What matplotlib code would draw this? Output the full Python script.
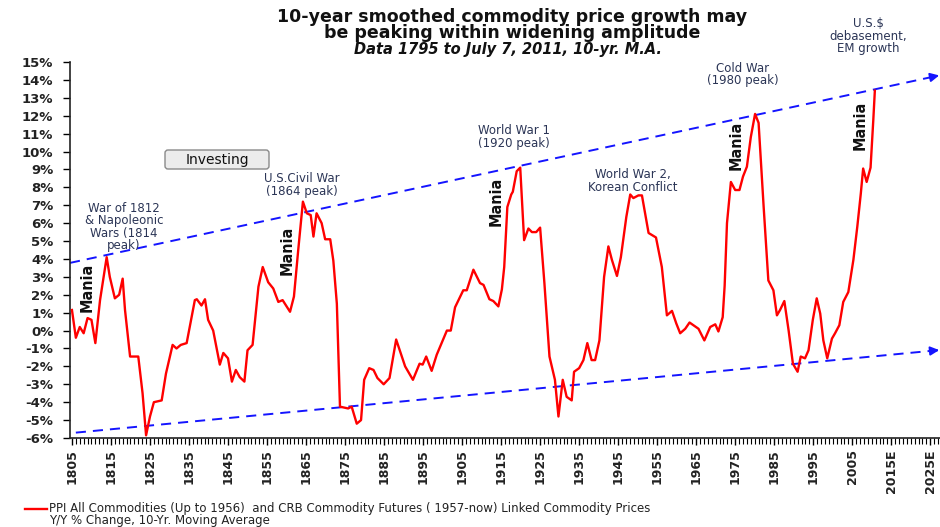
import matplotlib
matplotlib.use("Agg")
import matplotlib.pyplot as plt
from matplotlib.patches import FancyBboxPatch
from matplotlib.lines import Line2D

# 10-yr moving average of Y/Y commodity price change (%)
years = [1805.0, 1806.0, 1807.0, 1808.0, 1809.0, 1810.0, 1811.0, 1812.2, 1813.9, 1814.7,
         1816.0, 1817.1, 1818.0, 1818.6, 1819.9, 1822.0, 1823.1, 1824.0, 1825.0, 1826.0,
         1828.0, 1829.1, 1830.8, 1831.8, 1832.9, 1834.4, 1836.5, 1837.0, 1838.2, 1839.1,
         1839.9, 1841.2, 1842.9, 1843.8, 1845.0, 1846.0, 1847.0, 1848.0, 1849.2, 1850.0,
         1851.3, 1852.8, 1853.9, 1855.3, 1856.6, 1857.9, 1859.0, 1860.9, 1861.9, 1863.0,
         1864.2, 1865.2, 1866.2, 1866.9, 1867.7, 1869.0, 1869.9, 1871.2, 1872.0, 1872.9,
         1873.7, 1875.8, 1876.7, 1878.0, 1879.1, 1879.9, 1881.2, 1882.3, 1883.3, 1884.9,
         1886.4, 1888.1, 1890.4, 1892.4, 1894.1, 1894.9, 1895.8, 1897.2, 1898.5, 1901.1,
         1902.1, 1903.2, 1905.3, 1906.2, 1907.9, 1909.6, 1910.5, 1912.0, 1913.0, 1914.3,
         1915.2, 1915.8, 1916.6, 1917.6, 1918.0, 1919.0, 1919.9, 1920.9, 1922.0, 1922.9,
         1924.0, 1925.0, 1926.1, 1927.4, 1928.8, 1929.7, 1930.8, 1931.8, 1933.1, 1933.7,
         1935.0, 1936.1, 1937.1, 1938.2, 1939.1, 1940.2, 1941.4, 1942.5, 1943.4, 1944.7,
         1945.7, 1947.1, 1948.1, 1948.9, 1950.2, 1951.1, 1952.8, 1954.7, 1956.2, 1957.5,
         1958.8, 1959.9, 1960.9, 1962.2, 1963.3, 1964.3, 1965.6, 1967.1, 1968.6, 1969.9,
         1970.7, 1971.8, 1972.3, 1972.9, 1973.9, 1975.0, 1976.1, 1977.0, 1978.0, 1979.0,
         1980.1, 1981.0, 1982.3, 1983.5, 1984.8, 1985.7, 1986.5, 1987.6, 1988.7, 1989.8,
         1991.0, 1991.8, 1992.9, 1993.8, 1994.9, 1995.9, 1996.8, 1997.6, 1998.6, 1999.8,
         2000.6, 2001.7, 2002.7, 2004.0, 2005.3, 2006.3, 2007.2, 2007.8, 2008.7, 2009.7,
         2010.4, 2010.8]
growth = [1.15, -0.4, 0.2, -0.15, 0.7, 0.6, -0.7, 1.7, 4.1, 3.0,
          1.8, 2.0, 2.9, 1.15, -1.45, -1.45, -3.5, -5.85, -4.8, -4.0,
          -3.9, -2.4, -0.8, -1.0, -0.8, -0.7, 1.7, 1.75, 1.4, 1.75,
          0.6, 0.0, -1.9, -1.25, -1.55, -2.85, -2.2, -2.6, -2.85, -1.1,
          -0.8, 2.45, 3.55, 2.7, 2.35, 1.6, 1.7, 1.05, 1.9, 4.5,
          7.2, 6.55, 6.45, 5.25, 6.55, 6.0, 5.1, 5.1, 3.9, 1.5,
          -4.25, -4.35, -4.25, -5.2, -5.0, -2.75, -2.1, -2.2, -2.65, -3.0,
          -2.65, -0.5, -2.0, -2.75, -1.85, -1.9, -1.45, -2.25, -1.35, 0.0,
          0.0, 1.3, 2.25, 2.25, 3.4, 2.65, 2.55, 1.75, 1.65, 1.35,
          2.3, 3.55, 6.9, 7.6, 7.75, 8.9, 9.1, 5.05, 5.7, 5.5,
          5.5, 5.75, 2.65, -1.45, -2.75, -4.8, -2.75, -3.7, -3.9, -2.3,
          -2.1, -1.65, -0.7, -1.65, -1.65, -0.55, 3.0, 4.7, 3.95, 3.05,
          4.1, 6.35, 7.6, 7.4, 7.55, 7.55, 5.45, 5.2, 3.55, 0.85,
          1.1, 0.4, -0.15, 0.1, 0.45, 0.3, 0.1, -0.55, 0.2, 0.35,
          -0.05, 0.75, 2.5, 6.0, 8.3, 7.85, 7.85, 8.6, 9.15, 10.8,
          12.1, 11.6, 6.9, 2.8, 2.25, 0.85, 1.15, 1.65, 0.0, -1.85,
          -2.3, -1.45, -1.55, -1.1, 0.6, 1.8, 0.95, -0.55, -1.55, -0.45,
          -0.15, 0.3, 1.6, 2.15, 3.95, 5.8, 7.65, 9.05, 8.3, 9.1,
          11.75, 13.4]

# widening channel (start / end points)
upper_years = [1804.5, 2027.3]
upper_vals = [3.78, 14.25]
lower_years = [1806.0, 2027.3]
lower_vals = [-5.7, -1.09]

xtick_years = list(range(1805, 2026, 10))
xtick_labels = [str(y) for y in range(1805, 2006, 10)] + ["2015E", "2025E"]
ytick_vals = list(range(-6, 16))
ytick_labels = [f"{v}%" for v in ytick_vals]

events = [
    ("War of 1812\n& Napoleonic\nWars (1814\npeak)", 1818.3, 5.78),
    ("U.S.Civil War\n(1864 peak)", 1864.0, 8.13),
    ("World War 1\n(1920 peak)", 1918.3, 10.8),
    ("World War 2,\nKorean Conflict", 1948.7, 8.35),
    ("Cold War\n(1980 peak)", 1976.9, 14.3),
    ("U.S.$\ndebasement,\nEM growth", 2009.1, 16.45),
]
mania = [(1808.9, 2.43), (1860.1, 4.5), (1913.7, 7.23), (1975.3, 10.36), (2007.1, 11.48)]

W, H = 940, 527
fig = plt.figure(figsize=(W / 100, H / 100), dpi=100)
ax = fig.add_axes([70 / W, 1 - 438 / H, 870 / W, 376 / H])

blue = "#1414ff"
red = "#ff0000"
ann_col = "#2b3556"

ax.plot(years, growth, color=red, lw=1.7, zorder=3)

for xs, ys in [(upper_years, upper_vals), (lower_years, lower_vals)]:
    ax.plot(xs, ys, color=blue, lw=1.4, dashes=(5.2, 3.6), zorder=2, clip_on=False)
    # arrow head at the end of each channel line
    x0 = xs[1] - 2.5
    y0 = ys[0] + (ys[1] - ys[0]) * (x0 - xs[0]) / (xs[1] - xs[0])
    ax.annotate("", xy=(xs[1], ys[1]), xytext=(x0, y0),
                arrowprops=dict(arrowstyle="-|>", color=blue, lw=1.4,
                                mutation_scale=13, shrinkA=0, shrinkB=0),
                annotation_clip=False)

ax.set_xlim(1804.5, 2027.5)
ax.set_ylim(-6, 15)

ax.spines["top"].set_visible(False)
ax.spines["right"].set_visible(False)
for s in ["left", "bottom"]:
    ax.spines[s].set_color("#222222")
    ax.spines[s].set_linewidth(1.2)

ax.set_yticks(ytick_vals)
ax.set_yticklabels(ytick_labels, fontsize=9.5, fontweight="bold", color="#222222")
ax.set_xticks(xtick_years)
ax.set_xticklabels(xtick_labels, rotation=90, fontsize=9, fontweight="bold",
                   color="#222222")
ax.set_xticks(list(range(1805, 2028)), minor=True)
ax.tick_params(axis="y", direction="out", length=5, width=1, pad=7)
ax.tick_params(axis="x", which="major", direction="out", length=5, width=1, pad=3)
ax.tick_params(axis="x", which="minor", direction="out", length=4, width=0.8)

for txt, x, y in events:
    ax.text(x, y, txt, ha="center", va="center", fontsize=8.5, color=ann_col,
            linespacing=0.95, clip_on=False)

for x, y in mania:
    ax.text(x, y, "Mania", rotation=90, ha="center", va="center", fontsize=11.5,
            family="DejaVu Sans", fontstretch="condensed", fontweight="bold",
            color="#111111")

# "Investing" button
box = FancyBboxPatch((165 / 100, (H - 169) / 100), 1.04, 0.19,
                     boxstyle="round,pad=0,rounding_size=0.03",
                     transform=fig.dpi_scale_trans, fc="#ececec", ec="#8a8a8a", lw=1)
fig.add_artist(box)
fig.text(217 / W, 1 - 159.5 / H, "Investing", ha="center", va="center", fontsize=10,
         color="#111111")

# titles
fig.text(512 / W, 1 - 25 / H,
         "10-year smoothed commodity price growth may\nbe peaking within widening amplitude",
         ha="center", va="center", fontsize=12.5, fontweight="bold", color="#111111",
         linespacing=0.92)
fig.text(508 / W, 1 - 49.5 / H, "Data 1795 to July 7, 2011, 10-yr. M.A.",
         ha="center", va="center", fontsize=10.5, fontweight="bold", style="italic",
         color="#111111")

# legend
fig.add_artist(Line2D([25 / W, 47 / W], [1 - 509 / H, 1 - 509 / H], color=red, lw=1.7))
fig.text(49 / W, 1 - 502 / H,
         "PPI All Commodities (Up to 1956)  and CRB Commodity Futures ( 1957-now) Linked Commodity Prices\n"
         "Y/Y % Change, 10-Yr. Moving Average",
         ha="left", va="top", fontsize=8.5, color="#222222", linespacing=0.88)

fig.savefig("out.png", dpi=100)
